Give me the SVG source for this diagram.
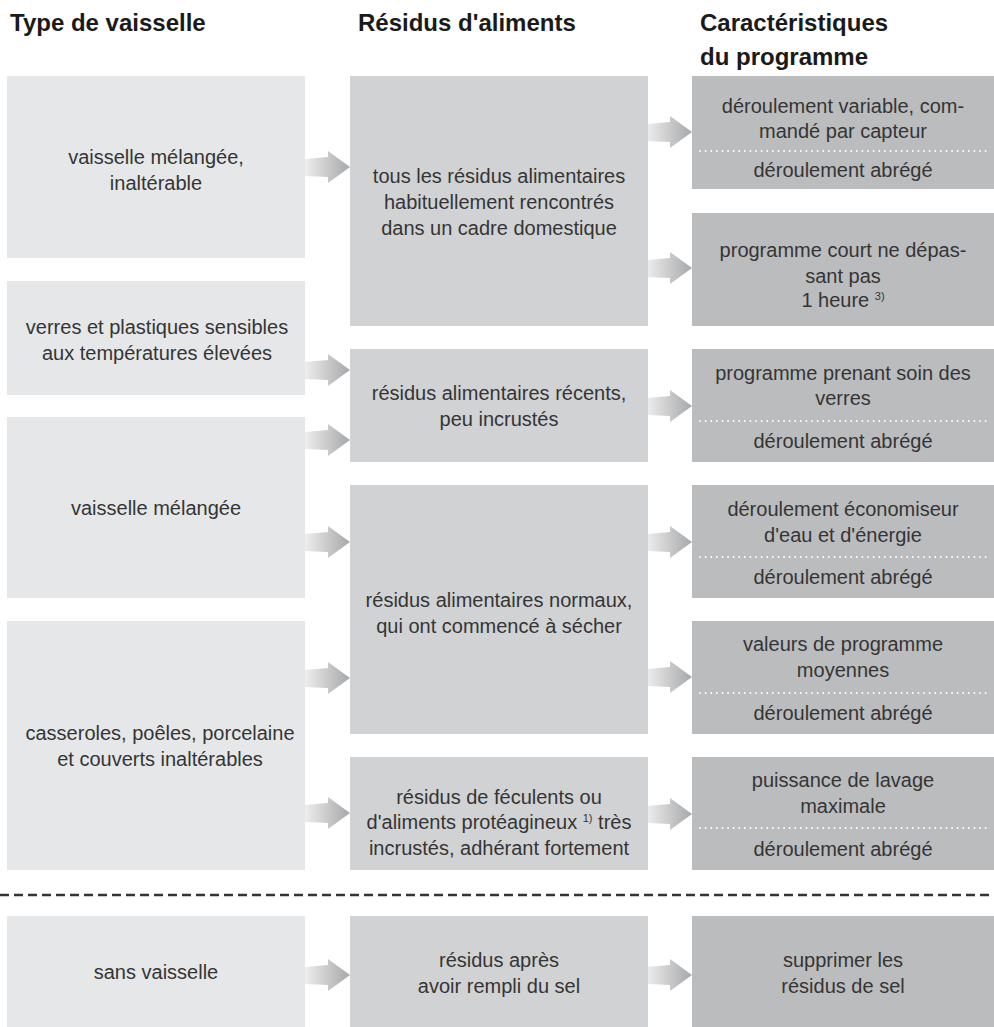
<svg xmlns="http://www.w3.org/2000/svg" width="994" height="1027" viewBox="0 0 994 1027">
<style>
.h{font-family:"Liberation Sans",Arial,sans-serif;font-weight:bold;font-size:24px;fill:#1a1a1a}
.t{font-family:"Liberation Sans",Arial,sans-serif;font-size:20px;fill:#353535;text-anchor:middle}
.sup{font-size:11px}
.c1{fill:#e6e7e8}
.c2{fill:#d1d2d4}
.c3{fill:#bbbcbe}
.dot{stroke:#ffffff;stroke-width:1.8;stroke-dasharray:0.1 5.5;stroke-linecap:round;fill:none}
</style>
<defs>
<linearGradient id="ag" x1="0" y1="0" x2="1" y2="0">
<stop offset="0" stop-color="#ededed"/>
<stop offset="1" stop-color="#a6a7a9"/>
</linearGradient>
<path id="arr" d="M0,-8 L23,-10 L23,-16 L45,0 L23,16 L23,10 L0,9 Z" fill="url(#ag)"/>
</defs>

<g id="headers">
<text class="h" x="10" y="31">Type de vaisselle</text>
<text class="h" x="358" y="31">Résidus d'aliments</text>
<text class="h" x="700" y="31">Caractéristiques</text>
<text class="h" x="700" y="65">du programme</text>
</g>

<g id="connectors">
<use href="#arr" x="305" y="167"/>
<use href="#arr" x="305" y="370"/>
<use href="#arr" x="305" y="440"/>
<use href="#arr" x="305" y="542"/>
<use href="#arr" x="305" y="678"/>
<use href="#arr" x="305" y="813"/>
<use href="#arr" x="305" y="975"/>
<use href="#arr" x="647" y="132"/>
<use href="#arr" x="647" y="268"/>
<use href="#arr" x="647" y="406"/>
<use href="#arr" x="647" y="542"/>
<use href="#arr" x="647" y="677"/>
<use href="#arr" x="647" y="814"/>
<use href="#arr" x="647" y="975"/>
<line x1="0" y1="895" x2="994" y2="895" stroke="#333" stroke-width="2.5" stroke-dasharray="9 5"/>
</g>

<g id="nodeA"><rect class="c1" x="7" y="76" width="298" height="182"/>
<text class="t" x="156" y="164">vaisselle mélangée,</text><text class="t" x="156" y="190">inaltérable</text></g>
<g id="nodeB"><rect class="c1" x="7" y="281" width="298" height="114"/>
<text class="t" x="157" y="334">verres et plastiques sensibles</text><text class="t" x="157" y="360">aux températures élevées</text></g>
<g id="nodeC"><rect class="c1" x="7" y="417" width="298" height="181"/>
<text class="t" x="156" y="515">vaisselle mélangée</text></g>
<g id="nodeD"><rect class="c1" x="7" y="621" width="298" height="249"/>
<text class="t" x="160" y="740">casseroles, poêles, porcelaine</text><text class="t" x="160" y="766">et couverts inaltérables</text></g>
<g id="nodeE"><rect class="c1" x="7" y="916" width="298" height="111"/>
<text class="t" x="156" y="979">sans vaisselle</text></g>

<g id="nodeF"><rect class="c2" x="350" y="76" width="298" height="250"/>
<text class="t" x="499" y="183">tous les résidus alimentaires</text><text class="t" x="499" y="209">habituellement rencontrés</text><text class="t" x="499" y="235">dans un cadre domestique</text></g>
<g id="nodeG"><rect class="c2" x="350" y="349" width="298" height="113"/>
<text class="t" x="499" y="400">résidus alimentaires récents,</text><text class="t" x="499" y="426">peu incrustés</text></g>
<g id="nodeH"><rect class="c2" x="350" y="485" width="298" height="249"/>
<text class="t" x="499" y="607">résidus alimentaires normaux,</text><text class="t" x="499" y="633">qui ont commencé à sécher</text></g>
<g id="nodeI"><rect class="c2" x="350" y="757" width="298" height="113"/>
<text class="t" x="499" y="804">résidus de féculents ou</text><text class="t" x="499" y="829">d'aliments protéagineux <tspan class="sup" dy="-7">1)</tspan><tspan dy="7"> très</tspan></text><text class="t" x="499" y="855">incrustés, adhérant fortement</text></g>
<g id="nodeJ"><rect class="c2" x="350" y="916" width="298" height="111"/>
<text class="t" x="499" y="967">résidus après</text><text class="t" x="499" y="993">avoir rempli du sel</text></g>

<g id="nodeK"><rect class="c3" x="692" y="76" width="302" height="113"/>
<text class="t" x="843" y="113">déroulement variable, com-</text><text class="t" x="843" y="138">mandé par capteur</text>
<line class="dot" x1="700" y1="151" x2="988" y2="151"/><text class="t" x="843" y="177">déroulement abrégé</text></g>
<g id="nodeL"><rect class="c3" x="692" y="213" width="302" height="113"/>
<text class="t" x="843" y="257">programme court ne dépas-</text><text class="t" x="843" y="283">sant pas</text><text class="t" x="843" y="307">1 heure <tspan class="sup" dy="-7">3)</tspan></text></g>
<g id="nodeM"><rect class="c3" x="692" y="349" width="302" height="113"/>
<text class="t" x="843" y="380">programme prenant soin des</text><text class="t" x="843" y="405">verres</text>
<line class="dot" x1="700" y1="421" x2="988" y2="421"/><text class="t" x="843" y="448">déroulement abrégé</text></g>
<g id="nodeN"><rect class="c3" x="692" y="485" width="302" height="113"/>
<text class="t" x="843" y="516">déroulement économiseur</text><text class="t" x="843" y="542">d'eau et d'énergie</text>
<line class="dot" x1="700" y1="557" x2="988" y2="557"/><text class="t" x="843" y="584">déroulement abrégé</text></g>
<g id="nodeO"><rect class="c3" x="692" y="621" width="302" height="113"/>
<text class="t" x="843" y="651">valeurs de programme</text><text class="t" x="843" y="677">moyennes</text>
<line class="dot" x1="700" y1="693" x2="988" y2="693"/><text class="t" x="843" y="720">déroulement abrégé</text></g>
<g id="nodeP"><rect class="c3" x="692" y="757" width="302" height="113"/>
<text class="t" x="843" y="787">puissance de lavage</text><text class="t" x="843" y="813">maximale</text>
<line class="dot" x1="700" y1="828" x2="988" y2="828"/><text class="t" x="843" y="856">déroulement abrégé</text></g>
<g id="nodeQ"><rect class="c3" x="692" y="916" width="302" height="111"/>
<text class="t" x="843" y="967">supprimer les</text><text class="t" x="843" y="993">résidus de sel</text></g>
</svg>
